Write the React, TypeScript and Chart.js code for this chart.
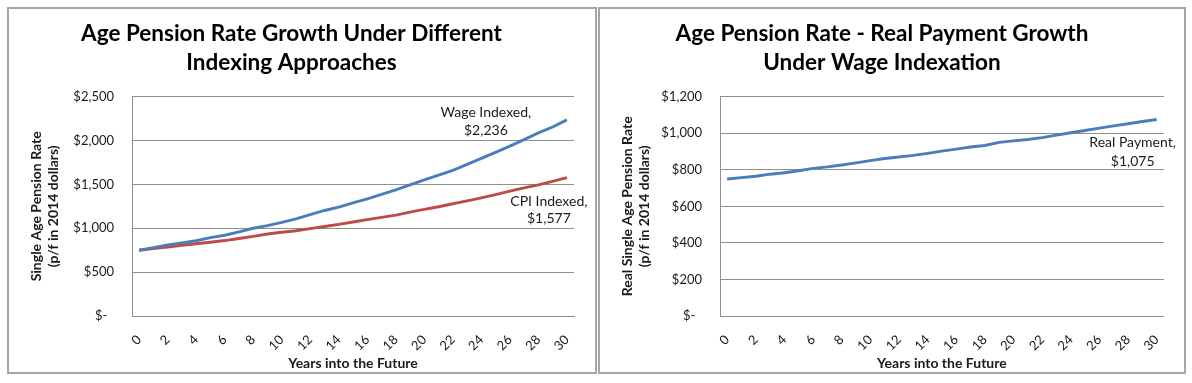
import { useEffect, useRef } from 'react';
import { Chart, registerables } from 'chart.js';

Chart.register(...registerables);

const years = ['0', '1', '2', '3', '4', '5', '6', '7', '8', '9', '10', '11', '12', '13', '14', '15', '16', '17', '18', '19', '20', '21', '22', '23', '24', '25', '26', '27', '28', '29', '30'];

const wageIndexed = [750, 779, 810, 833, 858, 893, 921, 958, 1000, 1030, 1068, 1107, 1155, 1203, 1242, 1290, 1336, 1387, 1437, 1494, 1552, 1605, 1660, 1728, 1797, 1865, 1937, 2010, 2087, 2155, 2236];
const cpiIndexed = [750, 768, 787, 806, 823, 840, 860, 884, 907, 935, 955, 972, 996, 1020, 1045, 1071, 1098, 1124, 1150, 1185, 1215, 1245, 1280, 1313, 1347, 1384, 1424, 1460, 1495, 1535, 1577];
const realPayment = [750, 757, 765, 776, 784, 795, 808, 816, 826, 838, 850, 862, 870, 879, 890, 902, 913, 925, 933, 950, 958, 966, 976, 990, 1003, 1015, 1028, 1040, 1052, 1064, 1075];

const leftTicks = [0, 500, 1000, 1500, 2000, 2500];
const rightTicks = [0, 200, 400, 600, 800, 1000, 1200];

const leftTitle = ['Age Pension Rate Growth Under Different', 'Indexing Approaches'];
const rightTitle = ['Age Pension Rate - Real Payment Growth', 'Under Wage Indexation'];
const leftYTitle = ['Single Age Pension Rate', '(p/f in 2014 dollars)'];
const rightYTitle = ['Real Single Age Pension Rate', '(p/f in 2014 dollars)'];
const xTitle = 'Years into the Future';

const BLUE = '#4a7ebb';
const RED = '#be4b48';
const GRID = '#8f8f8f';
const TEXT = '#1a1a1a';
const FONT = 'Lato';

const endLabelPlugin = {
  id: 'endLabels',
  afterDatasetsDraw(chart: any, _args: any, opts: any) {
    const ctx = chart.ctx;
    (opts.items || []).forEach((item: any) => {
      const meta = chart.getDatasetMeta(item.dataset);
      const pt = meta.data[meta.data.length - 1];
      const ds = chart.data.datasets[item.dataset];
      const v = ds.data[ds.data.length - 1] as number;
      const lines = [ds.label + ',', '$' + v.toLocaleString('en-US')];
      ctx.save();
      ctx.font = `14px ${FONT}`;
      ctx.fillStyle = TEXT;
      ctx.textAlign = 'center';
      ctx.textBaseline = 'middle';
      lines.forEach((l, i) => ctx.fillText(l, pt.x + item.dx, pt.y + item.dy + i * item.lh));
      ctx.restore();
    });
  },
};

function fmtDollar(v: number) {
  if (v === 0) return '$-  ';
  return '$' + v.toLocaleString('en-US');
}

function makeConfig(
  title: string[],
  yTitle: string[],
  ticks: number[],
  datasets: any[],
  yWidth: number,
  rightPad: number,
  labelItems: any[]
): any {
  return {
    type: 'line',
    data: { labels: years, datasets },
    plugins: [endLabelPlugin],
    options: {
      responsive: false,
      animation: false,
      layout: { padding: { left: 0, right: rightPad, top: 0, bottom: 0 } },
      elements: { point: { radius: 0 }, line: { tension: 0, borderWidth: 2.9 } },
      plugins: {
        legend: { display: false },
        tooltip: { enabled: false },
        title: {
          display: true,
          text: title,
          color: '#000',
          font: { family: FONT, size: 22.5, weight: 'bold', lineHeight: 1.32 },
          padding: { top: 9.5, bottom: 18.8 },
        },
        endLabels: { items: labelItems },
      },
      scales: {
        x: {
          type: 'category',
          offset: true,
          grid: { display: false, drawTicks: false },
          border: { display: true, color: GRID, width: 1 },
          ticks: {
            autoSkip: false,
            maxRotation: 45,
            minRotation: 45,
            padding: 16,
            color: TEXT,
            font: { family: FONT, size: 13 },
            callback: (_v: any, i: number) => (i % 2 === 0 ? years[i] : ''),
          },
          title: {
            display: true,
            text: xTitle,
            color: TEXT,
            font: { family: FONT, size: 14, weight: 'bold', lineHeight: 1.2 },
            padding: { top: 0, bottom: 0 },
          },
          afterFit: (s: any) => {
            s.height = 56;
          },
        },
        y: {
          min: ticks[0],
          max: ticks[ticks.length - 1],
          grid: { color: GRID, lineWidth: 1, drawTicks: false },
          border: { display: true, color: GRID, width: 1 },
          ticks: {
            stepSize: ticks[1] - ticks[0],
            padding: 18,
            color: TEXT,
            font: { family: FONT, size: 13 },
            callback: (v: any) => fmtDollar(Number(v)),
          },
          title: {
            display: true,
            text: yTitle,
            color: TEXT,
            font: { family: FONT, size: 14, weight: 'bold', lineHeight: 1.2 },
            padding: { top: 19, bottom: 0 },
          },
          afterFit: (s: any) => {
            s.width = yWidth;
          },
        },
      },
    },
  };
}

function Panel(props: { left: number; width: number; config: any }) {
  const ref = useRef<HTMLCanvasElement>(null);
  useEffect(() => {
    if (!ref.current) return;
    const chart = new Chart(ref.current, props.config);
    return () => chart.destroy();
  }, []);
  const cw = props.width - 4;
  const ch = 367 - 4;
  return (
    <div
      style={{
        position: 'absolute',
        left: props.left,
        top: 7,
        width: props.width,
        height: 367,
        border: '2px solid #a6a6a6',
        boxSizing: 'border-box',
        background: '#fff',
      }}
    >
      <canvas ref={ref} width={cw} height={ch} style={{ display: 'block', width: cw, height: ch }} />
    </div>
  );
}

export default function App() {
  const leftCfg = makeConfig(
    leftTitle,
    leftYTitle,
    leftTicks,
    [
      { label: 'Wage Indexed', data: wageIndexed, borderColor: BLUE, backgroundColor: BLUE },
      { label: 'CPI Indexed', data: cpiIndexed, borderColor: RED, backgroundColor: RED },
    ],
    123,
    21,
    [
      { dataset: 0, dx: -81, dy: -7, lh: 18 },
      { dataset: 1, dx: -18, dy: 24, lh: 17 },
    ]
  );
  const rightCfg = makeConfig(
    rightTitle,
    rightYTitle,
    rightTicks,
    [{ label: 'Real Payment', data: realPayment, borderColor: BLUE, backgroundColor: BLUE }],
    120,
    20,
    [{ dataset: 0, dx: -24, dy: 23, lh: 19 }]
  );
  return (
    <div>
      <Panel left={7} width={590} config={leftCfg} />
      <Panel left={598} width={588} config={rightCfg} />
    </div>
  );
}
